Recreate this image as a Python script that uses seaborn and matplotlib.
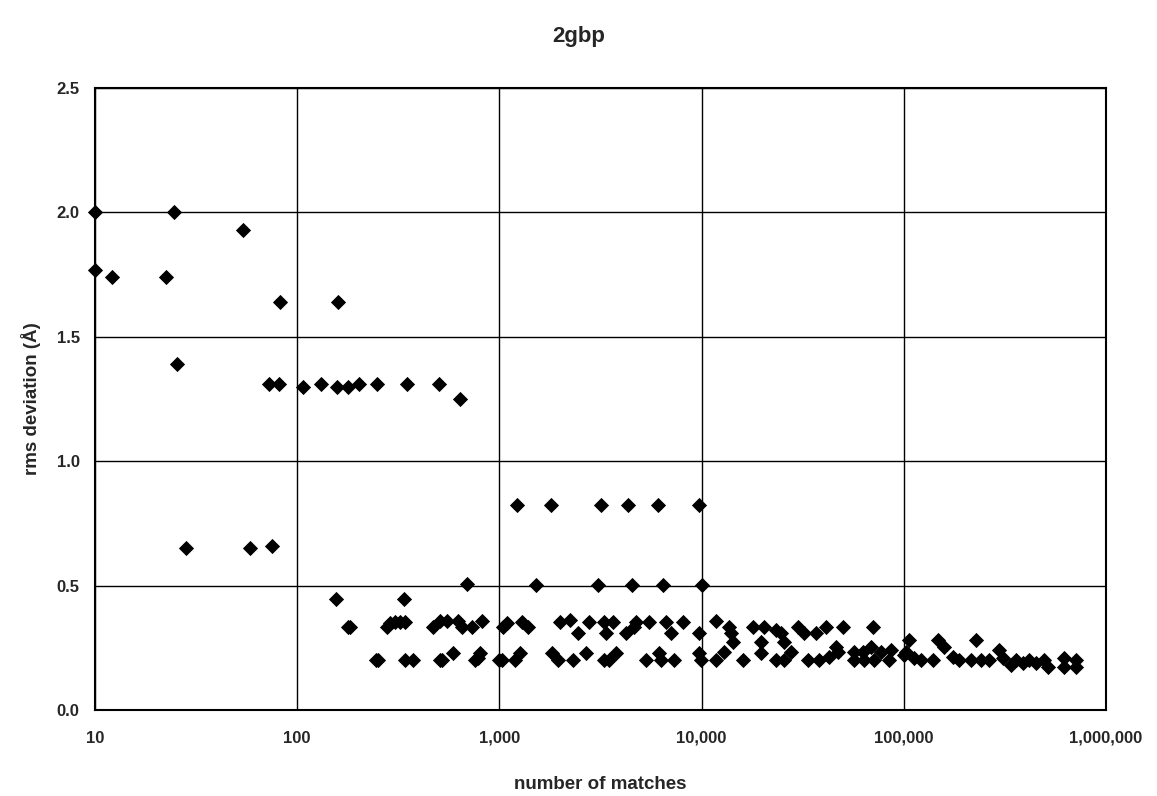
import matplotlib
matplotlib.use("Agg")
import matplotlib.pyplot as plt
import matplotlib.ticker as mticker
import seaborn as sns
import pandas as pd

title = "2gbp"
x_label = "number of matches"
y_label = "rms deviation (Å)"

matches = [
    10, 10, 12.1, 22.4, 24.6, 25.5, 28.2, 54, 58.5, 75, 72.7, 81.5, 82,
    107, 131, 158, 179, 203, 249, 351, 505, 641, 160,
    156, 339, 695, 183, 179, 279, 288, 305, 324, 343,
    244, 252, 343, 375,
    471, 511, 553, 627, 656, 735, 824,
    511, 522, 592, 760, 805, 787, 1000, 1047,
    1228, 1808, 3162, 4300, 6056, 9660,
    1524, 3055, 4550, 6413, 10000,
    1096, 1300, 1392, 2004, 2244, 2459, 2761, 3273, 3350, 3625, 4203, 4603,
    4710, 5470, 6640, 7030, 8050, 9660,
    1035, 1200, 1270, 1828, 1958, 2298, 2667, 3273, 3467, 3750, 5284, 6124,
    6266, 7262, 9660, 9890,
    11730, 13600, 13920, 14230, 12850, 11730, 15960, 17880, 20280, 23230,
    24600, 25470, 19580, 19580, 23230, 25470, 27600, 29850, 32000, 36650,
    41100, 49900, 70300, 33500, 37930, 42560, 46050, 47100, 56500, 56500,
    62660, 63400, 68700, 71000, 76900, 84300, 86300, 100000,
    105900, 102300, 112000, 121400, 139200, 147300, 157800, 174900, 187300,
    227200, 214700, 240500, 263600, 295400, 309300, 338800, 358100, 387900,
    415700, 449800, 493200, 516400, 619300, 619300, 709900, 709900,
]
rmsd = [
    2.00, 1.77, 1.74, 1.74, 2.00, 1.39, 0.65, 1.93, 0.65, 0.66, 1.31, 1.31, 1.64,
    1.30, 1.31, 1.30, 1.30, 1.31, 1.31, 1.31, 1.31, 1.25, 1.64,
    0.446, 0.446, 0.506, 0.334, 0.334, 0.334, 0.35, 0.354, 0.354, 0.354,
    0.20, 0.20, 0.20, 0.20,
    0.334, 0.358, 0.358, 0.358, 0.334, 0.334, 0.358,
    0.20, 0.20, 0.23, 0.20, 0.23, 0.21, 0.20, 0.334,
    0.824, 0.824, 0.824, 0.824, 0.824, 0.824,
    0.502, 0.502, 0.502, 0.502, 0.502,
    0.35, 0.354, 0.334, 0.354, 0.36, 0.31, 0.354, 0.354, 0.31, 0.354, 0.31, 0.334,
    0.354, 0.354, 0.354, 0.31, 0.354, 0.31,
    0.20, 0.20, 0.23, 0.23, 0.20, 0.20, 0.23, 0.20, 0.20, 0.23, 0.20, 0.23,
    0.20, 0.20, 0.23, 0.20,
    0.358, 0.334, 0.31, 0.273, 0.233, 0.20, 0.20, 0.334, 0.334, 0.32,
    0.31, 0.273, 0.273, 0.23, 0.20, 0.20, 0.233, 0.334, 0.31, 0.31,
    0.334, 0.334, 0.334, 0.20, 0.20, 0.213, 0.253, 0.233, 0.233, 0.20,
    0.233, 0.20, 0.253, 0.20, 0.233, 0.20, 0.241, 0.22,
    0.281, 0.233, 0.209, 0.20, 0.20, 0.281, 0.253, 0.213, 0.20,
    0.281, 0.20, 0.20, 0.20, 0.241, 0.209, 0.181, 0.20, 0.189,
    0.20, 0.189, 0.20, 0.173, 0.209, 0.173, 0.20, 0.173,
]

x_ticks = [10, 100, 1000, 10000, 100000, 1000000]
y_ticks = [0.0, 0.5, 1.0, 1.5, 2.0, 2.5]

df = pd.DataFrame({"matches": matches, "rmsd": rmsd})

sns.set_style("white")
plt.rcParams["font.family"] = ["Liberation Sans", "DejaVu Sans"]

fig = plt.figure(figsize=(11.57, 7.96), dpi=100)
ax = fig.add_axes([0.0821, 0.108, 0.8739, 0.7814])

sns.scatterplot(data=df, x="matches", y="rmsd", marker="D", s=60,
                color="black", edgecolor="black", linewidth=0, ax=ax,
                zorder=3, clip_on=False)

ax.set_xscale("log")
ax.set_xlim(10, 1000000)
ax.set_ylim(0, 2.5)
ax.set_xticks(x_ticks)
ax.xaxis.set_minor_locator(mticker.NullLocator())
ax.xaxis.set_major_formatter(mticker.FuncFormatter(lambda v, p: f"{int(round(v)):,}"))
ax.set_yticks(y_ticks)
ax.yaxis.set_major_formatter(mticker.FormatStrFormatter("%.1f"))

ax.grid(True, which="major", color="black", linewidth=1.0)
ax.set_axisbelow(True)
for s in ax.spines.values():
    s.set_visible(True)
    s.set_color("black")
    s.set_linewidth(1.5)

ax.tick_params(axis="both", which="major", direction="out", length=6,
               width=1.2, color="black", labelsize=12)
ax.tick_params(axis="x", pad=9)
ax.tick_params(axis="y", pad=5)
for lab in ax.get_xticklabels() + ax.get_yticklabels():
    lab.set_fontweight("bold")

ax.set_xlabel(x_label, fontsize=13.5, fontweight="bold", labelpad=22)
ax.set_ylabel(y_label, fontsize=13.5, fontweight="bold", labelpad=11)
fig.suptitle(title, fontsize=16, fontweight="bold", y=0.967)

fig.savefig("out.png", dpi=100, facecolor="white")
